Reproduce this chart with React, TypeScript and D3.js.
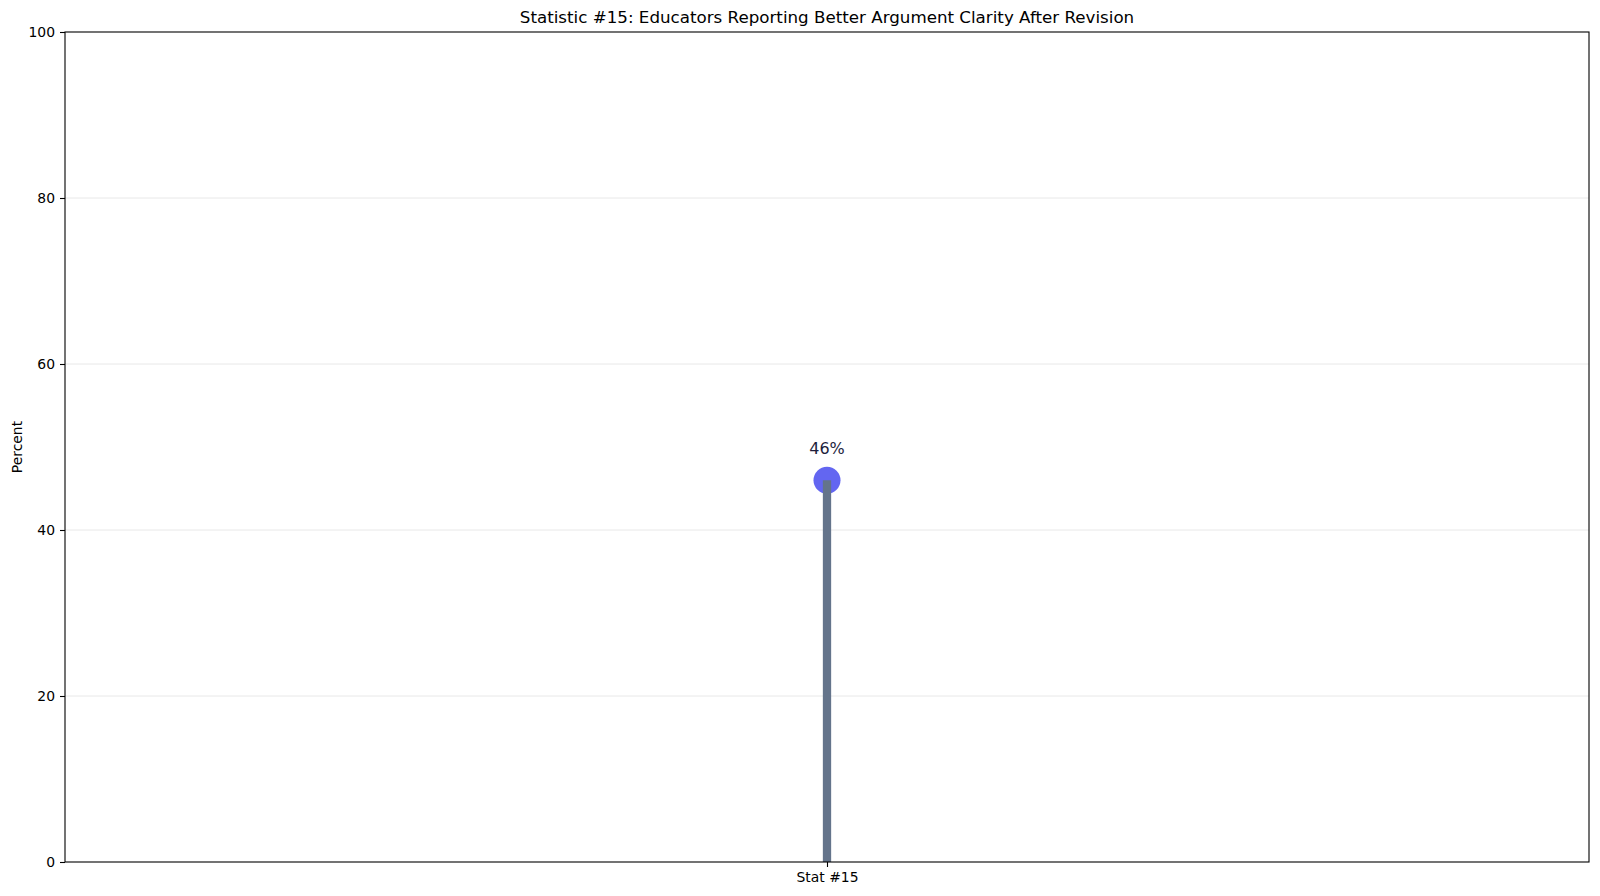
import React, { useEffect, useRef } from 'react';
import * as d3 from 'd3';

// Chart data
const categories = ['Stat #15'];
const values = [46];
const yTicks = [0, 20, 40, 60, 80, 100];
const chartTitle = 'Statistic #15: Educators Reporting Better Argument Clarity After Revision';
const yLabel = 'Percent';

const App: React.FC = () => {
  const svgRef = useRef<SVGSVGElement>(null);

  useEffect(() => {
    if (!svgRef.current) return;
    const svg = d3.select(svgRef.current);
    svg.selectAll('*').remove();

    const width = 1600;
    const height = 896;
    const margin = { top: 32, right: 11, bottom: 34, left: 65 };
    const font = '"DejaVu Sans", sans-serif';

    const x = d3.scalePoint<string>()
      .domain(categories)
      .range([margin.left, width - margin.right])
      .padding(0.5);
    const y = d3.scaleLinear().domain([0, 100]).range([height - margin.bottom, margin.top]);

    svg.append('rect').attr('width', width).attr('height', height).attr('fill', '#fff');

    // Horizontal grid
    svg.append('g')
      .selectAll('line')
      .data(yTicks.filter(t => t > 0 && t < 100))
      .join('line')
      .attr('x1', margin.left)
      .attr('x2', width - margin.right)
      .attr('y1', d => y(d))
      .attr('y2', d => y(d))
      .attr('stroke', '#e8e8e8')
      .attr('stroke-width', 1);

    // Y axis
    const yAxis = svg.append('g')
      .attr('transform', `translate(${margin.left},0)`)
      .call(d3.axisLeft(y).tickValues(yTicks).tickSize(5).tickPadding(5).tickFormat(d => String(d)));
    yAxis.select('.domain').remove();
    yAxis.selectAll('line').attr('stroke', '#000').attr('stroke-width', 1.1);
    yAxis.selectAll('text').attr('font-family', font).attr('font-size', 13.9).attr('fill', '#000');

    // X axis
    const xAxis = svg.append('g')
      .attr('transform', `translate(0,${height - margin.bottom})`)
      .call(d3.axisBottom(x).tickSize(5).tickPadding(5));
    xAxis.select('.domain').remove();
    xAxis.selectAll('line').attr('stroke', '#000').attr('stroke-width', 1.1);
    xAxis.selectAll('text').attr('font-family', font).attr('font-size', 13.9).attr('fill', '#000');

    // Markers and stems
    categories.forEach((c, i) => {
      const cx = x(c) as number;
      const v = values[i];
      svg.append('circle')
        .attr('cx', cx)
        .attr('cy', y(v))
        .attr('r', 13.5)
        .attr('fill', '#6366f1');
      svg.append('line')
        .attr('x1', cx)
        .attr('x2', cx)
        .attr('y1', y(0))
        .attr('y2', y(v))
        .attr('stroke', '#64748b')
        .attr('stroke-width', 8.3);
      svg.append('text')
        .attr('x', cx)
        .attr('y', y(v) - 26)
        .attr('text-anchor', 'middle')
        .attr('font-family', font)
        .attr('font-size', 16)
        .attr('fill', '#1e1e3c')
        .text(`${v}%`);
    });

    // Frame
    svg.append('rect')
      .attr('x', margin.left)
      .attr('y', margin.top)
      .attr('width', width - margin.left - margin.right)
      .attr('height', height - margin.top - margin.bottom)
      .attr('fill', 'none')
      .attr('stroke', '#000')
      .attr('stroke-width', 1.1);

    // Title
    svg.append('text')
      .attr('x', (margin.left + width - margin.right) / 2)
      .attr('y', 23)
      .attr('text-anchor', 'middle')
      .attr('font-family', font)
      .attr('font-size', 16.7)
      .attr('fill', '#000')
      .text(chartTitle);

    // Y label
    svg.append('text')
      .attr('transform', `translate(22,${(margin.top + height - margin.bottom) / 2}) rotate(-90)`)
      .attr('text-anchor', 'middle')
      .attr('font-family', font)
      .attr('font-size', 13.9)
      .attr('fill', '#000')
      .text(yLabel);
  }, []);

  return (
    <svg
      ref={svgRef}
      width={1600}
      height={896}
      viewBox="0 0 1600 896"
      style={{ display: 'block', position: 'absolute', left: 0, top: 0 }}
    />
  );
};

export default App;
